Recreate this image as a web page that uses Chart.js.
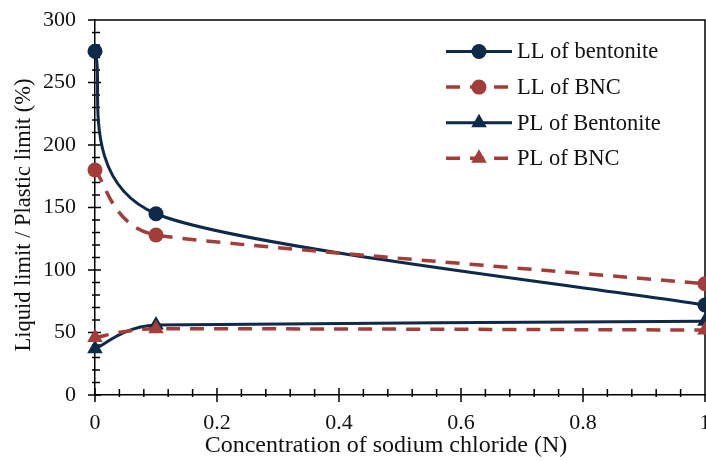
<!DOCTYPE html>
<html>
<head>
<meta charset="utf-8">
<script src="https://cdn.jsdelivr.net/npm/chart.js@4.4.0/dist/chart.umd.min.js"></script>
<style>
  html, body { margin: 0; padding: 0; background: #fff; }
  #chart { display: block; }
</style>
</head>
<body>
<canvas id="chart" width="706" height="461"></canvas>
<script>
// Sodium chloride concentration (N)
const concentration = [0, 0.1, 1];

// Atterberg limits (%)
const llBentonite = [275, 145, 72];
const llBNC = [180, 128, 89];
const plBentonite = [37, 56, 59];
const plBNC = [46, 53, 52];

const seriesNames = ['LL of bentonite', 'LL of BNC', 'PL of Bentonite', 'PL of BNC'];
const xTickLabels = ['0', '0.2', '0.4', '0.6', '0.8', '1'];
const yTickLabels = ['0', '50', '100', '150', '200', '250', '300'];

const NAVY = '#0f2949';
const RED = '#a23d3a';
const SERIF = "'Liberation Serif', 'Times New Roman', serif";

const toPoints = (vals) => concentration.map((x, i) => ({ x: x, y: vals[i] }));

const makeSet = (label, vals, color, dashed, shape, order) => ({
    label: label,
    data: toPoints(vals),
    borderColor: color,
    backgroundColor: color,
    borderWidth: dashed ? 3.5 : 3,
    borderDash: dashed ? [14, 10] : [],
    tension: 0.4,
    pointStyle: shape,
    pointRadius: shape === 'triangle' ? 9 : 7.5,
    pointBorderWidth: 0,
    pointBackgroundColor: color,
    clip: false,
    order: order
});

// Excel-like smoothing: Catmull-Rom handles (1/6 of the neighbour chord),
// shortened so a handle never exceeds half of the shorter adjacent segment
const excelSmooth = {
    id: 'excelSmooth',
    beforeDatasetsDraw(chart) {
        chart.data.datasets.forEach((ds, i) => {
            const meta = chart.getDatasetMeta(i);
            const pts = meta.data;
            const n = pts.length;
            for (let k = 0; k < n; k++) {
                const p = pts[k];
                const prev = pts[Math.max(k - 1, 0)];
                const next = pts[Math.min(k + 1, n - 1)];
                const dx = next.x - prev.x;
                const dy = next.y - prev.y;
                const d02 = Math.hypot(dx, dy);
                const d01 = Math.hypot(p.x - prev.x, p.y - prev.y) || Infinity;
                const d12 = Math.hypot(next.x - p.x, next.y - p.y) || Infinity;
                let f = 1 / 6;
                const lim = Math.min(d01, d12) / 2;
                if (d02 * f > lim) f = lim / d02;
                p.cp1x = p.x - dx * f;
                p.cp1y = p.y - dy * f;
                p.cp2x = p.x + dx * f;
                p.cp2y = p.y + dy * f;
            }
            meta.dataset._pointsUpdated = true;
            meta.dataset._path = undefined;
        });
    }
};

// plot frame, crossing tick marks (major + minor)
const axisDecor = {
    id: 'axisDecor',
    beforeDatasetsDraw(chart) {
        const { ctx, chartArea: a, scales: { x, y } } = chart;
        ctx.save();
        ctx.strokeStyle = '#000';
        ctx.lineWidth = 1.5;
        ctx.beginPath();
        ctx.moveTo(a.left, a.top);
        ctx.lineTo(a.right, a.top);
        ctx.lineTo(a.right, a.bottom);
        for (let k = 0; k <= 30; k++) {
            const py = y.getPixelForValue(k * 10);
            const major = k % 5 === 0;
            ctx.moveTo(a.left - (major ? 7 : 3), py);
            ctx.lineTo(a.left + (major ? 6 : 5), py);
        }
        for (let k = 0; k <= 25; k++) {
            const px = x.getPixelForValue(k * 0.04);
            const major = k % 5 === 0;
            ctx.moveTo(px, a.bottom + (major ? 7 : 2));
            ctx.lineTo(px, a.bottom - (major ? 7 : 6));
        }
        ctx.stroke();
        ctx.restore();
    },
    afterDraw(chart) {
        const { ctx } = chart;
        ctx.save();
        ctx.fillStyle = '#111';
        ctx.textBaseline = 'middle';
        ctx.textAlign = 'center';
        ctx.font = '24px ' + SERIF;
        ctx.fillText('Concentration of sodium chloride (N)', 386, 446);
        ctx.translate(24, 215);
        ctx.rotate(-Math.PI / 2);
        ctx.font = '22.5px ' + SERIF;
        ctx.fillText('Liquid limit / Plastic limit (%)', 0, 0);
        ctx.restore();

        // legend: line sample with marker, as in the spreadsheet
        ctx.save();
        chart.data.datasets.forEach((ds, i) => {
            const cy = 51.5 + i * 35.6;
            ctx.strokeStyle = ds.borderColor;
            ctx.lineWidth = ds.borderWidth;
            ctx.setLineDash(ds.borderDash);
            ctx.beginPath();
            ctx.moveTo(446, cy);
            ctx.lineTo(512, cy);
            ctx.stroke();
            ctx.setLineDash([]);
            ctx.fillStyle = ds.backgroundColor;
            Chart.helpers.drawPoint(ctx, {
                pointStyle: ds.pointStyle,
                radius: ds.pointRadius,
                rotation: 0,
                borderWidth: 0
            }, 479, cy);
            ctx.fillStyle = '#111';
            ctx.font = '22.5px ' + SERIF;
            ctx.textAlign = 'left';
            ctx.textBaseline = 'middle';
            ctx.fillText(ds.label, 517, cy + 1);
        });
        ctx.restore();
    }
};

new Chart(document.getElementById('chart'), {
    type: 'line',
    data: {
        datasets: [
            makeSet(seriesNames[0], llBentonite, NAVY, false, 'circle', 4),
            makeSet(seriesNames[1], llBNC, RED, true, 'circle', 3),
            makeSet(seriesNames[2], plBentonite, NAVY, false, 'triangle', 2),
            makeSet(seriesNames[3], plBNC, RED, true, 'triangle', 1)
        ]
    },
    options: {
        responsive: false,
        devicePixelRatio: 1,
        animation: false,
        layout: { autoPadding: false, padding: { top: 20, right: 1, bottom: 0, left: 0 } },
        plugins: {
            legend: { display: false },
            tooltip: { enabled: false }
        },
        scales: {
            x: {
                type: 'linear',
                min: 0,
                max: 1,
                grid: { display: false, drawTicks: false },
                border: { display: true, color: '#000', width: 1.5 },
                ticks: {
                    stepSize: 0.2,
                    padding: 15,
                    color: '#111',
                    font: { family: SERIF, size: 22 },
                    callback: (v, i) => xTickLabels[i]
                },
                afterFit: (s) => { s.height = 66; s.paddingLeft = 0; s.paddingRight = 0; }
            },
            y: {
                min: 0,
                max: 300,
                grid: { display: false, drawTicks: false },
                border: { display: true, color: '#000', width: 1.5 },
                ticks: {
                    stepSize: 50,
                    padding: 19,
                    color: '#111',
                    font: { family: SERIF, size: 22 },
                    callback: (v, i) => yTickLabels[i]
                },
                afterFit: (s) => { s.width = 95; s.paddingTop = 0; s.paddingBottom = 0; }
            }
        }
    },
    plugins: [excelSmooth, axisDecor]
});
</script>
</body>
</html>
